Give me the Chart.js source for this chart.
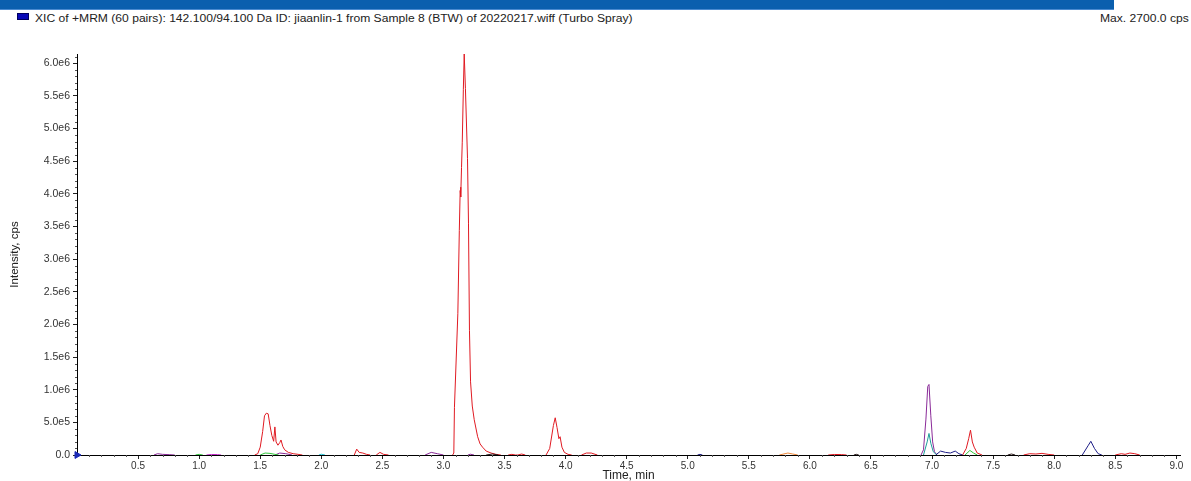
<!DOCTYPE html>
<html>
<head>
<meta charset="utf-8">
<script src="https://cdn.jsdelivr.net/npm/chart.js@4.4.1/dist/chart.umd.min.js"></script>
<style>
  html, body { margin: 0; padding: 0; background: #fff; overflow: hidden; }
  body { width: 1191px; height: 481px; position: relative; font-family: "Liberation Sans", Arial, sans-serif; }
  #topbar { position: absolute; left: 0; top: 0; width: 1114px; height: 9px; background: #0b5fae; border-bottom: 1px solid #4a8ad0; }
  #swatch { position: absolute; left: 17px; top: 13px; width: 10px; height: 5px; background: #0a0ab8; border: 1px solid #000060; }
  .hdr { position: absolute; top: 13px; font-size: 10px; color: #222; white-space: nowrap; transform: scaleX(1.21); transform-origin: left top; }
  #caption { left: 35px; }
  #maxcps { left: 1100px; }
  canvas { position: absolute; left: 0; top: 0; }
</style>
</head>
<body>
<div id="topbar"></div>
<div id="swatch"></div>
<div id="caption" class="hdr">XIC of +MRM (60 pairs): 142.100/94.100 Da ID: jiaanlin-1 from Sample 8 (BTW) of 20220217.wiff (Turbo Spray)</div>
<div id="maxcps" class="hdr">Max. 2700.0 cps</div>
<canvas id="xic" width="1191" height="481"></canvas>
<script>
// Axis ranges (time in min, intensity in cps)
const timeMin = 0;
const timeMax = 9.03;
const intensityMax = 6.14e6;

// Tick labels (one per 0.5 min / per 5e5 cps)
const yTickLabels = ['0.0', '5.0e5', '1.0e6', '1.5e6', '2.0e6', '2.5e6', '3.0e6', '3.5e6', '4.0e6', '4.5e6', '5.0e6', '5.5e6', '6.0e6'];
const xTickLabels = ['', '0.5', '1.0', '1.5', '2.0', '2.5', '3.0', '3.5', '4.0', '4.5', '5.0', '5.5', '6.0', '6.5', '7.0', '7.5', '8.0', '8.5', '9.0'];

// Traces: time (min) and intensity (millions of cps), null breaks the line
const redTime = [1.455, 1.48, 1.50, 1.52, 1.535, 1.55, 1.565, 1.58, 1.595, 1.61, 1.62, 1.63, 1.645, 1.66, 1.67, 1.685, 1.70, 1.73, 1.77, 1.81, 1.845, 1.85,
  2.27, 2.29, 2.31, 2.34, 2.37, 2.40, 2.41,
  2.45, 2.48, 2.51, 2.55, 2.56,
  3.075, 3.085, 3.09, 3.118, 3.13, 3.137, 3.14, 3.143, 3.148, 3.154, 3.163, 3.17, 3.176, 3.18, 3.197, 3.205, 3.213, 3.222, 3.236, 3.252, 3.28, 3.30, 3.32, 3.35, 3.39, 3.43, 3.47, 3.48,
  3.53, 3.56, 3.59, 3.61, 3.64, 3.67, 3.68,
  3.84, 3.87, 3.90, 3.915, 3.93, 3.945, 3.955, 3.97, 3.99, 4.02, 4.05, 4.06,
  4.13, 4.17, 4.21, 4.26, 4.27,
  6.15, 6.2, 6.26, 6.3, 6.31,
  7.25, 7.28, 7.30, 7.315, 7.33, 7.345, 7.37, 7.41, 7.42,
  7.75, 7.8, 7.85, 7.9, 7.95, 8.0, 8.01,
  8.5, 8.55, 8.58, 8.62, 8.66, 8.7];
const redIntensity = [0, 0.02, 0.12, 0.36, 0.6, 0.64, 0.63, 0.45, 0.3, 0.21, 0.43, 0.2, 0.15, 0.19, 0.23, 0.13, 0.08, 0.04, 0.02, 0.01, 0, null,
  0, 0.09, 0.04, 0.03, 0.01, 0, null,
  0, 0.04, 0.01, 0, null,
  0, 0.03, 0.73, 2.17, 3.44, 4.05, 4.10, 3.95, 4.4, 4.79, 5.6, 6.14, 6.14, 5.61, 4.54, 3.55, 1.91, 1.12, 0.75, 0.54, 0.28, 0.17, 0.12, 0.06, 0.03, 0.01, 0, null,
  0, 0.01, 0, 0, 0.015, 0, null,
  0, 0.1, 0.45, 0.57, 0.42, 0.25, 0.28, 0.12, 0.04, 0.01, 0, null,
  0, 0.03, 0.03, 0, null,
  0, 0.008, 0.006, 0, null,
  0, 0.1, 0.25, 0.38, 0.2, 0.12, 0.03, 0, null,
  0, 0.02, 0.015, 0.025, 0.01, 0, null,
  0, 0.02, 0.01, 0.03, 0.02, 0];

const purpleTime = [0.63, 0.66, 0.70, 0.76, 0.8, 0.81, 1.62, 1.66, 1.71, 1.76, 1.77, 2.85, 2.9, 2.95, 3.0, 3.01, 3.2, 3.22, 3.25, 3.26, 6.91, 6.93, 6.95, 6.965, 6.975, 6.99, 7.005, 7.02, 7.04];
const purpleIntensity = [0, 0.02, 0.01, 0.005, 0, null, 0, 0.03, 0.02, 0, null, 0, 0.04, 0.02, 0, null, 0, 0.012, 0, null, 0, 0.08, 0.55, 1.05, 1.08, 0.6, 0.2, 0.05, 0];

const tealTime = [6.93, 6.96, 6.975, 6.99, 7.01, 7.04];
const tealIntensity = [0, 0.2, 0.33, 0.18, 0.05, 0];

const navyTime = [5.08, 5.1, 5.12, 5.13, 7.03, 7.07, 7.11, 7.15, 7.19, 7.22, 7.25, 7.26, 8.23, 8.28, 8.30, 8.33, 8.36, 8.39];
const navyIntensity = [0, 0.01, 0, null, 0, 0.06, 0.04, 0.03, 0.06, 0.02, 0, null, 0, 0.15, 0.21, 0.1, 0.02, 0];

const greenTime = [0.97, 1.0, 1.03, 1.04, 1.5, 1.54, 1.58, 1.62, 1.65, 1.66, 7.27, 7.31, 7.34, 7.37];
const greenIntensity = [0, 0.01, 0, null, 0, 0.03, 0.025, 0.01, 0, null, 0, 0.07, 0.03, 0];

const orangeTime = [5.75, 5.82, 5.86, 5.9];
const orangeIntensity = [0, 0.03, 0.015, 0];

const magentaTime = [1.06, 1.1, 1.15, 1.18];
const magentaIntensity = [0, 0.008, 0.006, 0];

const cyanTime = [1.98, 2.0, 2.03];
const cyanIntensity = [0, 0.012, 0];

const blackTime = [3.35, 3.4, 3.45, 3.46, 6.36, 6.38, 6.4, 6.41, 7.62, 7.65, 7.68];
const blackIntensity = [0, 0.015, 0, null, 0, 0.01, 0, null, 0, 0.015, 0];

function trace(times, values) {
  return times.map((t, i) => ({ x: t, y: values[i] === null ? null : values[i] * 1e6 }));
}

function line(times, values, color) {
  return {
    data: trace(times, values),
    showLine: true,
    borderColor: color,
    borderWidth: 1,
    pointRadius: 0,
    tension: 0,
    spanGaps: false
  };
}

// put the major ticks exactly on the labelled steps
function fixedTicks(labels, step) {
  return (scale) => {
    scale.ticks = labels
      .map((label, i) => ({ value: i * step, label }))
      .filter((t) => t.label !== '');
  };
}

function labelAt(labels, step) {
  return (v) => labels[Math.round(v / step)] ?? '';
}

// small unlabeled ticks between the labeled ones
const minorTicks = {
  id: 'minorTicks',
  afterDraw(chart) {
    const ctx = chart.ctx;
    const xs = chart.scales.x;
    const ys = chart.scales.y;
    ctx.save();
    ctx.strokeStyle = '#555';
    ctx.lineWidth = 1;
    ctx.beginPath();
    for (let i = 1; i * 0.1 <= xs.max; i++) {
      if (i % 5 === 0) continue;
      const px = Math.round(xs.getPixelForValue(i * 0.1)) + 0.5;
      ctx.moveTo(px, ys.bottom);
      ctx.lineTo(px, ys.bottom + 2);
    }
    for (let i = 1; i * 1e5 <= ys.max; i++) {
      if (i % 5 === 0) continue;
      const py = Math.round(ys.getPixelForValue(i * 1e5)) + 0.5;
      ctx.moveTo(xs.left, py);
      ctx.lineTo(xs.left - 2, py);
    }
    ctx.stroke();
    ctx.restore();
  }
};

const fontFamily = '"Liberation Sans", Arial, sans-serif';

new Chart(document.getElementById('xic'), {
  type: 'scatter',
  data: {
    datasets: [
      line(cyanTime, cyanIntensity, '#22c4d4'),
      line(magentaTime, magentaIntensity, '#c026c8'),
      line(orangeTime, orangeIntensity, '#f08a3c'),
      line(greenTime, greenIntensity, '#2fc73a'),
      line(blackTime, blackIntensity, '#2a1a1a'),
      line(navyTime, navyIntensity, '#1c1c86'),
      line(tealTime, tealIntensity, '#1e9c9a'),
      line(purpleTime, purpleIntensity, '#8a2a98'),
      line(redTime, redIntensity, '#e01a22'),
      {
        data: [{ x: timeMin, y: 0 }],
        pointStyle: 'triangle',
        rotation: 90,
        pointRadius: 4,
        backgroundColor: '#1b2bb8',
        borderColor: '#1b2bb8',
        clip: false
      }
    ]
  },
  options: {
    responsive: false,
    animation: false,
    layout: { padding: { top: 54, right: 11, left: 0, bottom: 0 } },
    plugins: { legend: { display: false }, tooltip: { enabled: false } },
    scales: {
      x: {
        type: 'linear',
        bounds: 'data',
        min: timeMin,
        max: timeMax,
        afterBuildTicks: fixedTicks(xTickLabels, 0.5),
        afterFit(scale) { scale.height = 26; },
        border: { color: '#000', width: 1 },
        grid: { drawOnChartArea: false, tickLength: 4, tickColor: '#222' },
        ticks: {
          autoSkip: false,
          maxRotation: 0,
          padding: 1,
          color: '#333',
          font: { family: fontFamily, size: 10 },
          callback: labelAt(xTickLabels, 0.5)
        },
        title: { display: true, text: 'Time, min', color: '#222', font: { family: fontFamily, size: 12 }, padding: { top: 0, bottom: -2 } }
      },
      y: {
        type: 'linear',
        bounds: 'data',
        min: 0,
        max: intensityMax,
        afterBuildTicks: fixedTicks(yTickLabels, 5e5),
        afterFit(scale) { scale.width = 77; },
        border: { color: '#000', width: 1 },
        grid: { drawOnChartArea: false, tickLength: 4, tickColor: '#222' },
        ticks: {
          autoSkip: false,
          padding: 3,
          color: '#333',
          font: { family: fontFamily, size: 10.5 },
          callback: labelAt(yTickLabels, 5e5)
        },
        title: { display: true, text: 'Intensity, cps', color: '#222', font: { family: fontFamily, size: 11.5 }, padding: { top: 8, bottom: 0 } }
      }
    }
  },
  plugins: [minorTicks]
});
</script>
</body>
</html>
